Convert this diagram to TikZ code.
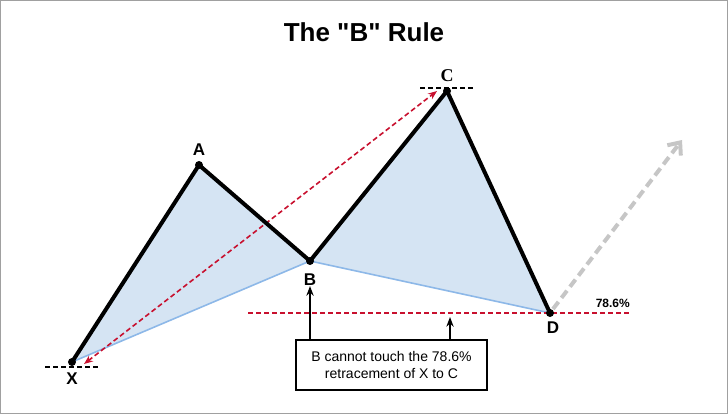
\documentclass[tikz,border=0pt]{standalone}
\usepackage{fontspec}
\setmainfont{Liberation Sans}
\newfontfamily\serifpt{Liberation Serif}
\usetikzlibrary{arrows.meta,positioning}
\definecolor{legfill}{HTML}{D5E4F3}
\definecolor{legedge}{HTML}{8DB8E8}
\definecolor{fibred}{HTML}{C8102E}
\definecolor{framegray}{HTML}{A0A0A0}
\tikzset{
  pivot/.style={circle,fill=black,inner sep=0pt,minimum size=8pt},
  pivotlab/.style={font=\bfseries\fontsize{17}{19}\selectfont,inner sep=1pt},
  levelline/.style={dashed,line width=1.4pt,dash pattern=on 5pt off 3pt},
}
\begin{document}
\begin{tikzpicture}[x=1pt,y=-1pt,>=Stealth]
\useasboundingbox (0,0) rectangle (728,414);
\draw[framegray,line width=1pt] (0.5,0.5) rectangle (727.5,413.5);
\node[font=\bfseries\fontsize{26}{30}\selectfont] (title) at (364,32) {The \textquotedbl B\textquotedbl\ Rule};

% pattern points
\coordinate (X) at (72,362);
\coordinate (A) at (199,165);
\coordinate (B) at (310,261);
\coordinate (C) at (447,91);
\coordinate (D) at (550,313);

\fill[legfill] (X)--(A)--(B)--cycle;
\fill[legfill] (B)--(C)--(D)--cycle;
\draw[legedge,line width=1.6pt] (X)--(B)--(D);

% levels
\draw[levelline] (45,367)--(100,367);
\draw[levelline] (420,88)--(475,88);
\draw[levelline,fibred] (248,313)--(630,313);
\node[font=\bfseries\fontsize{12}{14}\selectfont,anchor=south east,inner sep=1pt] (pct) at (631,309) {78.6\%};

% X to C retracement
\coordinate (xtip) at (84,364);
\coordinate (ctip) at (437,91);
\draw[fibred,line width=1.6pt,dash pattern=on 5pt off 3pt,<->,>={Stealth[length=9pt,width=7pt]}] (xtip)--(ctip);

\draw[line width=4pt,line join=miter] (X)--(A)--(B)--(C)--(D);
\foreach \p in {X,A,B,C,D}
  \node[pivot] at (\p) {};

% projection
\coordinate (proj) at (682,140);
\draw[gray!45,line width=4pt,dash pattern=on 9pt off 5pt,-{Straight Barb[length=10pt,width=17pt]}] (553,309)--(proj);

\node[pivotlab] (labA) at (199,150) {A};
\node[pivotlab] (labB) at (310,280) {B};
\node[pivotlab,font=\bfseries\serifpt\fontsize{18}{19}\selectfont] (labC) at (447,76) {C};
\node[pivotlab] (labD) at (553,328) {D};
\node[pivotlab] (labX) at (72,379) {X};

% note
\node[draw,line width=1.5pt,align=center,minimum width=191pt,minimum height=50pt,font=\fontsize{14}{17}\selectfont] (note) at (391.5,365) {B cannot touch the 78.6\%\\retracement of X to C};
\coordinate (touch) at (450,317);
\draw[->,line width=1.5pt] (note.north -| labB) -- ([yshift=1pt]labB.south);
\draw[->,line width=1.5pt] (note.north -| touch) -- (touch);
\end{tikzpicture}
\end{document}
